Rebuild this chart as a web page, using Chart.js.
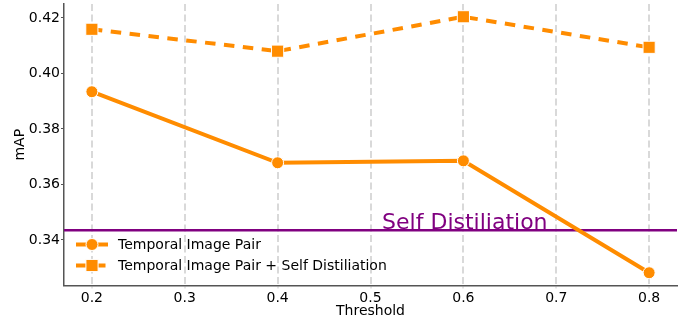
<!DOCTYPE html>
<html>
<head>
<meta charset="utf-8">
<script src="https://cdn.jsdelivr.net/npm/chart.js@4/dist/chart.umd.min.js"></script>
<style>
  html, body { margin: 0; padding: 0; background: #fff; }
  #wrap { width: 686px; height: 322px; }
</style>
</head>
<body>
<div id="wrap"><canvas id="chart" width="686" height="322"></canvas></div>
<script>
// thresholds on the x axis
const thresholds = [0.2, 0.4, 0.6, 0.8];
const xTicks = [0.2, 0.3, 0.4, 0.5, 0.6, 0.7, 0.8];
const yTicks = [0.34, 0.36, 0.38, 0.40, 0.42];

// mAP values
const temporalPair = [0.3934, 0.3678, 0.3685, 0.3282];
const temporalPairSelfDist = [0.4159, 0.4080, 0.4204, 0.4094];

// baseline (horizontal line)
const selfDistBaseline = 0.3435;
const baselineLabel = 'Self Distiliation';
const baselineLabelX = 0.5125;

const xMin = 0.17, xMax = 0.83;
const yMin = 0.3236, yMax = 0.4250;

const ORANGE = '#ff8c00';
const PURPLE = '#800080';
const FONT = 'DejaVu Sans';

const toPoints = (xs, ys) => xs.map((x, i) => ({ x: x, y: ys[i] }));

// no extra room for overhanging tick labels, the plot box is fixed by layout padding
const noOverhang = s => { s.paddingTop = 0; s.paddingBottom = 0; s.paddingLeft = 0; s.paddingRight = 0; };

// legend + baseline label drawn inside the plot area
const overlayPlugin = {
    id: 'overlay',
    afterDatasetsDraw(chart) {
        const { ctx, chartArea, scales } = chart;

        // label over the baseline
        ctx.save();
        ctx.font = `22px "${FONT}"`;
        ctx.fillStyle = PURPLE;
        ctx.textAlign = 'left';
        ctx.textBaseline = 'alphabetic';
        ctx.fillText(baselineLabel, scales.x.getPixelForValue(baselineLabelX), scales.y.getPixelForValue(selfDistBaseline) - 1);
        ctx.restore();

        // legend, lower left
        const rows = chart.data.datasets.filter(d => !d.hideInLegend);
        const x0 = chartArea.left + 12;
        const x1 = x0 + 32;
        rows.forEach((ds, i) => {
            const y = chartArea.bottom - 41 + i * 21;
            ctx.save();
            ctx.strokeStyle = ds.borderColor;
            ctx.lineWidth = ds.borderWidth;
            ctx.lineCap = 'butt';
            ctx.setLineDash(ds.borderDash || []);
            ctx.beginPath();
            ctx.moveTo(x0, y);
            ctx.lineTo(x1, y);
            ctx.stroke();
            ctx.setLineDash([]);
            ctx.fillStyle = ds.pointBackgroundColor;
            ctx.strokeStyle = ds.pointBorderColor;
            ctx.lineWidth = ds.pointBorderWidth;
            Chart.helpers.drawPoint(ctx, {
                pointStyle: ds.pointStyle,
                radius: ds.pointRadius,
                borderWidth: ds.pointBorderWidth,
                rotation: 0
            }, (x0 + x1) / 2, y);
            ctx.font = `14px "${FONT}"`;
            ctx.fillStyle = '#000';
            ctx.textBaseline = 'middle';
            ctx.fillText(ds.label, x1 + 10, y + 1);
            ctx.restore();
        });
    }
};

new Chart(document.getElementById('chart'), {
    type: 'line',
    data: {
        datasets: [
            {
                label: 'Temporal Image Pair',
                data: toPoints(thresholds, temporalPair),
                borderColor: ORANGE,
                borderWidth: 4,
                pointStyle: 'circle',
                pointRadius: 6,
                pointBackgroundColor: ORANGE,
                pointBorderColor: '#fff',
                pointBorderWidth: 1
            },
            {
                label: 'Temporal Image Pair + Self Distiliation',
                data: toPoints(thresholds, temporalPairSelfDist),
                borderColor: ORANGE,
                borderWidth: 4,
                borderDash: [10.5, 8.5],
                pointStyle: 'rect',
                pointRadius: 8.6,
                pointBackgroundColor: ORANGE,
                pointBorderColor: '#fff',
                pointBorderWidth: 1
            },
            {
                label: 'baseline',
                hideInLegend: true,
                data: [{ x: xMin, y: selfDistBaseline }, { x: xMax, y: selfDistBaseline }],
                borderColor: PURPLE,
                borderWidth: 2.5,
                pointRadius: 0
            }
        ]
    },
    options: {
        responsive: false,
        animation: false,
        devicePixelRatio: 1,
        layout: { autoPadding: false, padding: { left: 0, right: 9, top: 4, bottom: 0 } },
        plugins: {
            legend: { display: false },
            tooltip: { enabled: false }
        },
        elements: { line: { tension: 0 } },
        scales: {
            x: {
                type: 'linear',
                min: xMin,
                max: xMax,
                afterBuildTicks: s => { s.ticks = xTicks.map(v => ({ value: v })); },
                afterFit: s => { s.height = 36.5; noOverhang(s); },
                ticks: {
                    color: '#000',
                    font: { family: FONT, size: 14 },
                    padding: 1,
                    maxRotation: 0,
                    callback: v => v.toFixed(1)
                },
                grid: {
                    color: '#d9d9d9',
                    lineWidth: 2,
                    tickColor: '#cccccc',
                    tickLength: 3,
                    tickWidth: 1
                },
                border: { display: true, color: '#555', width: 1.5, dash: [7, 3.5] },
                title: {
                    display: true,
                    text: 'Threshold',
                    color: '#000',
                    font: { family: FONT, size: 14 },
                    padding: { top: 0, bottom: 2 }
                }
            },
            y: {
                type: 'linear',
                min: yMin,
                max: yMax,
                afterBuildTicks: s => { s.ticks = yTicks.map(v => ({ value: v })); },
                afterFit: s => { s.width = 64; noOverhang(s); },
                ticks: {
                    color: '#000',
                    font: { family: FONT, size: 14 },
                    padding: 1,
                    callback: v => v.toFixed(2)
                },
                grid: {
                    drawOnChartArea: false,
                    tickColor: '#555',
                    tickLength: 3,
                    tickWidth: 1
                },
                border: { display: true, color: '#555', width: 1.5 },
                title: {
                    display: true,
                    text: 'mAP',
                    color: '#000',
                    font: { family: FONT, size: 14 },
                    padding: { top: 12, bottom: 0 }
                }
            }
        }
    },
    plugins: [overlayPlugin]
});
</script>
</body>
</html>
